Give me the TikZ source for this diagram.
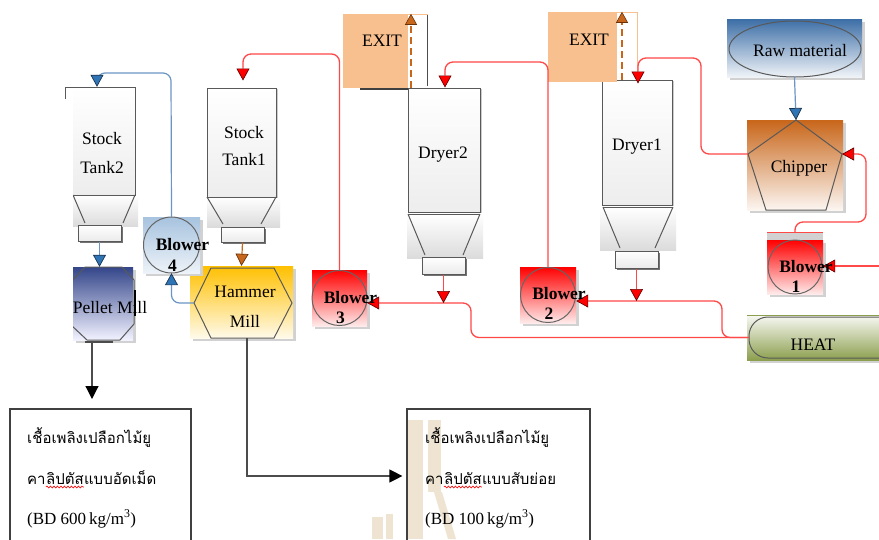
\documentclass[tikz,border=0pt]{standalone}
\usepackage{fontspec}
\setmainfont{Liberation Serif}
\newfontfamily\thaifont[Script=Thai]{Loma}
\usetikzlibrary{arrows.meta,decorations.pathmorphing,calc,shadows}

\definecolor{lnred}{HTML}{FF4848}
\definecolor{tipred}{HTML}{FF0000}
\definecolor{tipedge}{HTML}{6A0000}
\definecolor{lnblue}{HTML}{6A96C4}
\definecolor{tipblue}{HTML}{2F74B5}
\definecolor{tipblueedge}{HTML}{1C3550}
\definecolor{lnorange}{HTML}{C8671C}
\definecolor{tiporangeedge}{HTML}{6B3208}
\definecolor{peach}{HTML}{F8C08E}
\definecolor{tankedge}{HTML}{595959}
\definecolor{wmark}{HTML}{EFE4D2}
\definecolor{pelblue}{HTML}{34468A}
\definecolor{gold}{HTML}{FFC000}
\definecolor{chipbrown}{HTML}{C8661A}
\definecolor{rawblue}{HTML}{3C6EA6}
\definecolor{olive}{HTML}{8C9F4E}
\definecolor{b4blue}{HTML}{A7C3DF}

\tikzset{
  redtip/.tip={Triangle[width=13pt,length=12pt,fill=tipred,color=tipedge,line width=0.7pt]},
  bluetip/.tip={Triangle[width=13pt,length=12pt,fill=tipblue,color=tipblueedge,line width=0.7pt]},
  orangetip/.tip={Triangle[width=13pt,length=12pt,fill=lnorange,color=tiporangeedge,line width=0.7pt]},
  blacktip/.tip={Triangle[width=13pt,length=13pt,fill=black,color=black]},
  redflow/.style={draw=lnred, line width=1.3pt, rounded corners=8pt, -redtip},
  blueflow/.style={draw=lnblue, line width=1.2pt, rounded corners=8pt, -bluetip},
  orangeflow/.style={draw=lnorange, line width=1.2pt, -orangetip},
  darkflow/.style={draw=black!70, line width=1.2pt, -blacktip},
  exitflow/.style={draw=lnorange, line width=2.8pt, dash pattern=on 7pt off 4pt,
    -{Triangle[width=12pt,length=11pt,fill=lnorange,color=tiporangeedge,line width=0.6pt]}},
  lbl/.style={font=\fontsize{17.5}{21}\selectfont, inner sep=0, align=center},
  blbl/.style={font=\bfseries\fontsize{17.5}{21}\selectfont, inner sep=0},
  thai/.style={font=\thaifont\fontsize{15}{19}\selectfont, inner sep=0, anchor=base west},
  latin/.style={font=\fontsize{17}{20}\selectfont, inner sep=0, anchor=base west},
  plainbox/.style={rectangle, inner sep=0},
  shaded/.style={plainbox, drop shadow={shadow xshift=3pt, shadow yshift=-3pt, fill=black!18, opacity=1}},
  tankbody/.style={plainbox, top color=white, bottom color=black!7},
  outlet/.style={plainbox, draw=tankedge, line width=1pt, top color=white, bottom color=black!8,
    drop shadow={shadow xshift=1.5pt, shadow yshift=-1.5pt, fill=black!55, opacity=1}},
  edge/.style={draw=tankedge, line width=1pt},
  blowring/.style={draw=black!60, line width=1pt},
  outbox/.style={plainbox, draw=black!75, line width=1.2pt},
}

\begin{document}
\begin{tikzpicture}[x=1pt,y=-1pt]
\useasboundingbox (0,0) rectangle (879,539);
\fill[white] (0,0) rectangle (879,539);

% ---------- watermark behind the second product box ----------
\fill[wmark] (408,420) rectangle (423,539);
\fill[wmark] (428,420) rectangle (441,492);
\fill[wmark] (434,492) -- (442,492) -- (456,539) -- (448,539) -- cycle;
\fill[wmark] (372,517) rectangle (383,539);
\fill[wmark] (386,514) rectangle (393,539);

% ---------- Stock Tank 2 ----------
\fill[top color=white, bottom color=black!14] (73,195) rectangle (138,226);
\node[tankbody, minimum width=62pt, minimum height=108pt] (st2) at (104,141) {};
\draw[edge] (65,99) -- (65,87) -- (135,87) -- (135,195) -- (73,195);
\draw[edge] (73,195) -- (85,223) (135,195) -- (123,223);
\node[outlet, minimum width=43pt, minimum height=16pt] (st2o) at (99.5,233) {};
\node[lbl] (st2t) at (102,153) {Stock\\[8pt]Tank2};

% ---------- Stock Tank 1 ----------
\fill[top color=white, bottom color=black!14] (207,197) rectangle (280,227);
\node[tankbody, edge, minimum width=69pt, minimum height=109pt,
  drop shadow={shadow xshift=2pt, shadow yshift=-1pt, fill=black!20, opacity=1}] (st1) at (241.5,142.5) {};
\draw[edge] (207,197) -- (223,224) (276,197) -- (261,224);
\node[outlet, minimum width=43pt, minimum height=15pt] (st1o) at (242.5,234.5) {};
\node[lbl] (st1t) at (244,146) {Stock\\[6pt]Tank1};

% ---------- Dryer 2 ----------
\fill[top color=white, bottom color=black!14] (407,214) rectangle (483,258);
\node[tankbody, edge, minimum width=72pt, minimum height=124pt,
  drop shadow={shadow xshift=2pt, shadow yshift=-1pt, fill=black!20, opacity=1}] (dr2) at (444,150) {};
\draw[edge] (408,214) -- (480,214);
\draw[edge] (408,214) -- (425,255) (480,214) -- (463,255);
\node[outlet, minimum width=43pt, minimum height=17pt] (dr2o) at (443.5,265.5) {};
\node[lbl] (dr2t) at (443,155) {Dryer2};

% ---------- Dryer 1 ----------
\fill[top color=white, bottom color=black!14] (600,207) rectangle (676,250);
\node[tankbody, edge, minimum width=70pt, minimum height=125pt,
  drop shadow={shadow xshift=2pt, shadow yshift=-1pt, fill=black!20, opacity=1}] (dr1) at (637,142.5) {};
\draw[edge] (603,207) -- (673,207);
\draw[edge] (603,207) -- (620,248) (673,207) -- (655,248);
\node[outlet, minimum width=43pt, minimum height=17pt] (dr1o) at (636.5,259.5) {};
\node[lbl] (dr1t) at (637,147) {Dryer1};

% ---------- EXIT boxes ----------
\node[plainbox, fill=peach, minimum width=65pt, minimum height=74pt] (exit2) at (375.5,51) {};
\draw[peach, line width=1pt] (408,14) -- (428,14);
\draw[black!70, line width=1pt] (427,15) -- (427,86);
\draw[black!75, line width=1.2pt] (360,89) -- (408,89);
\node[lbl] (exit2t) at (382,41) {EXIT};
\node[plainbox, fill=peach, minimum width=69pt, minimum height=70pt] (exit1) at (582.5,47) {};
\draw[peach, line width=1pt] (617,12) -- (637,12) -- (637,82);
\node[lbl] (exit1t) at (589,40) {EXIT};

% ---------- Pellet Mill ----------
\node[shaded, top color=pelblue, bottom color=white!95!blue, minimum width=60pt, minimum height=73pt] (pel) at (103,303.5) {};
\draw[edge] (85,267) -- (122,267) -- (134,280) -- (134,324) -- (120,340) -- (87,340) -- (70,324) -- (70,283) -- cycle;
\node[lbl] (pelt) at (110,308) {Pellet Mill};
\fill[white] (50,99) rectangle (72.5,345);
\draw[black, line width=1.2pt] (135,290) -- (135,316);
\draw[black!70, line width=2pt] (85,341.5) -- (113,341.5);

% ---------- Hammer Mill ----------
\node[shaded, top color=gold, bottom color=gold!8, minimum width=103pt, minimum height=72pt] (ham) at (241.5,302) {};
\coordinate (hamL) at (194,303);
\draw[edge] (hamL) -- (211,268) -- (274,268) -- (292,303) -- (274,338) -- (211,338) -- cycle;
\node[lbl] (hamt) at (245,307) {Hammer\\[9pt]Mill};

% ---------- Blowers ----------
\node[shaded, top color=b4blue, bottom color=b4blue!20, minimum width=57pt, minimum height=56pt] (b4) at (171.5,245) {};
\draw[blowring] (b4.center) circle [radius=28pt];
\node[blbl] (b4t) at (182.5,245) {Blower};
\node[blbl] (b4n) at (172.5,266) {4};

\node[shaded, top color=red, bottom color=red!8, minimum width=55pt, minimum height=56pt] (b3) at (339.5,298) {};
\draw[blowring] (b3.center) circle [radius=27.5pt];

\node[shaded, top color=red, bottom color=red!8, minimum width=56pt, minimum height=56pt] (b2) at (548,295) {};
\draw[blowring] (b2.center) circle [radius=27.5pt];

\fill[black!18] (767,232) rectangle (823,240);
\node[shaded, top color=red, bottom color=red!8, minimum width=56pt, minimum height=54pt] (b1) at (795,267) {};
\draw[lnred, line width=1pt] (767,232) -- (823,232);
\draw[blowring] (b1.center) circle [radius=27pt];

% ---------- Raw material ----------
\node[shaded, top color=rawblue, bottom color=rawblue!8, minimum width=135pt, minimum height=58pt] (raw) at (794.5,48) {};
\draw[edge] (795,49) ellipse [x radius=66pt, y radius=28pt];
\node[lbl] (rawt) at (800,51) {Raw material};

% ---------- Chipper ----------
\node[shaded, top color=chipbrown, bottom color=chipbrown!6, minimum width=96pt, minimum height=90pt] (chip) at (795,165) {};
\coordinate (chipL) at (748,154);
\coordinate (chipR) at (842,154);
\coordinate (chipT) at (796,120);
\draw[edge] (chipT) -- (chipR) -- (826,210) -- (766,210) -- (chipL) -- cycle;
\node[lbl] (chipt) at (799,168) {Chipper};

% ---------- HEAT ----------
\node[shaded, top color=olive!6, bottom color=olive, minimum width=132pt, minimum height=45pt] (heatbox) at (813,337.5) {};
\draw[olive, line width=1pt] (747,315) -- (879,315);
\node[plainbox, draw=black!65, line width=1pt, rounded corners=19pt, minimum width=156pt, minimum height=41pt] (heat) at (827,337.5) {};
\node[lbl] (heatt) at (813,345) {HEAT};

% ---------- product boxes ----------
\node[outbox, minimum width=181pt, minimum height=140pt] (out1) at (100.5,479) {};
\node[outbox, minimum width=183pt, minimum height=140pt] (out2) at (498.5,479) {};

\node[thai] (o1a) at (27,443) {เชื้อเพลิงเปลือกไม้ยู};
\node[thai] (o1b) at (27,484) {คา};
\node[thai] (o1c) at (o1b.base east) {ลิปตัส};
\node[thai] (o1d) at (o1c.base east) {แบบอัดเม็ด};
\node[latin] (o1e) at (27,524) {(BD 600\,kg/m\textsuperscript{3})};

\node[thai] (o2a) at (425,443) {เชื้อเพลิงเปลือกไม้ยู};
\node[thai] (o2b) at (425,484) {คา};
\node[thai] (o2c) at (o2b.base east) {ลิปตัส};
\node[thai] (o2d) at (o2c.base east) {แบบสับย่อย};
\node[latin] (o2e) at (425,524) {(BD 100\,kg/m\textsuperscript{3})};

\foreach \w in {o1c,o2c}
  \draw[red, line width=0.6pt, decorate, decoration={snake, amplitude=0.9pt, segment length=3.5pt}]
    ($(\w.base west)+(0,3)$) -- ($(\w.base east)+(0,3)$);

% ---------- connectors ----------
% material transport
\draw[blueflow] (st2o.south) -- (st2o.south |- pel.north);
\draw[blueflow] (hamL) -| (b4.south);
\coordinate (b4up) at (171,73);
\coordinate (st2in) at (97,73);
\draw[blueflow] (b4.north) -- (b4up) -- (st2in) -- (st2in |- st2.north);
\draw[orangeflow] (st1o.south) -- (ham.north);
\draw[blueflow] (raw.south) -- (chipT);

% air lines to the tanks
\coordinate (r3) at (339.5,54);
\coordinate (st1in) at (243,54);
\draw[redflow] (b3.north) -- (r3) -- (st1in) -- ($(st1in |- st1.north)+(0,-7)$);
\coordinate (r2) at (548,62);
\coordinate (dr2in) at (445,62);
\draw[redflow] (b2.north) -- (r2) -- (dr2in) -- (dr2in |- dr2.north);
\coordinate (rc1) at (701,154);
\coordinate (rc2) at (701,58);
\coordinate (dr1in) at (638,58);
\draw[redflow] (chipL) -- (rc1) -- (rc2) -- (dr1in) -- ($(dr1in |- dr1.north)+(0,4)$);
\coordinate (rb1) at (795,222);
\coordinate (rb2) at (866,222);
\coordinate (rb3) at (866,154);
\draw[redflow] ($(b1.north)+(0,-8)$) -- (rb1) -- (rb2) -- (rb3) -- (chipR);
\coordinate (rin) at (879,266);
\draw[redflow] (rin) -- (b1.east |- rin);

% heat supply
\coordinate (jA) at (443.5,303);
\coordinate (jB) at (636.5,301);
\coordinate (h1) at (471,337.5);
\coordinate (h2) at (471,303);
\coordinate (h3) at (722,337.5);
\coordinate (h4) at (722,301);
\draw[redflow] (heat.west) -- (h1) -- (h2) -- (b3.east |- jA);
\draw[redflow] (heat.west) -- (h3) -- (h4) -- (b2.east |- jB);
\draw[redflow] (dr2o.south) -- (jA);
\draw[redflow] (dr1o.south) -- (jB);

% exhaust
\coordinate (ex2b) at (411,88);
\coordinate (ex1b) at (622,80);
\draw[exitflow] (ex2b) -- (ex2b |- exit2.north);
\draw[exitflow] (ex1b) -- (ex1b |- exit1.north);

% products
\coordinate (pelout) at (92,343);
\coordinate (pelarr) at (92,399);
\draw[darkflow] (pelout) -- (pelarr);
\coordinate (hamout) at (247,338);
\coordinate (hambend) at (247,476);
\draw[darkflow] (hamout) -- (hambend) -- ($(out2.west |- hambend)+(-4,0)$);

% blower labels on top of the lines
\node[blbl] (b3t) at (350.5,298) {Blower};
\node[blbl] (b3n) at (340.5,318) {3};
\node[blbl] (b2t) at (559,294) {Blower};
\node[blbl] (b2n) at (549,314) {2};
\node[blbl] (b1t) at (806,267) {Blower};
\node[blbl] (b1n) at (796,287) {1};
\end{tikzpicture}
\end{document}
